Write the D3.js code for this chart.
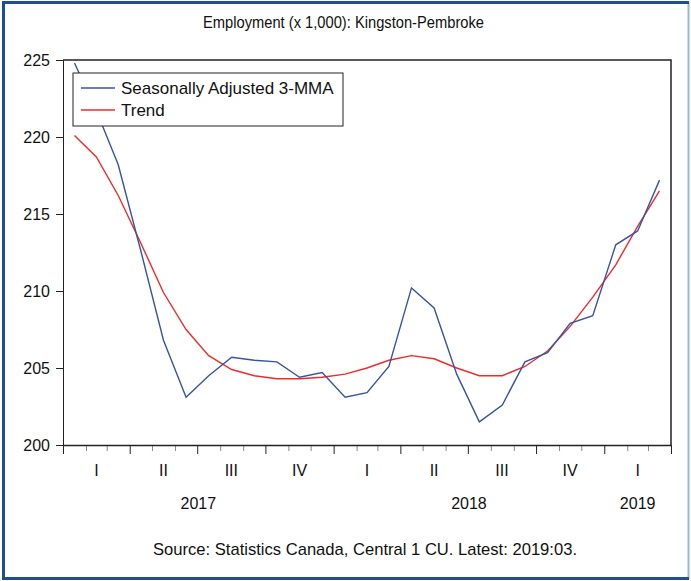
<!DOCTYPE html>
<html>
<head>
<meta charset="utf-8">
<script src="https://cdn.jsdelivr.net/npm/d3@7"></script>
<style>
  html, body { margin: 0; padding: 0; background: #fff; }
  svg { display: block; font-family: "Liberation Sans", Arial, sans-serif; }
</style>
</head>
<body>
<svg id="chart" width="691" height="581"></svg>
<script>
// ---- Data (monthly, Jan 2017 – Mar 2019) ----
const months = ["2017-01","2017-02","2017-03","2017-04","2017-05","2017-06","2017-07","2017-08","2017-09","2017-10","2017-11","2017-12",
                "2018-01","2018-02","2018-03","2018-04","2018-05","2018-06","2018-07","2018-08","2018-09","2018-10","2018-11","2018-12",
                "2019-01","2019-02","2019-03"];
const seasonallyAdjusted = [224.8, 221.7, 218.2, 212.6, 206.8, 203.1, 204.5, 205.7, 205.5, 205.4, 204.4, 204.7,
                            203.1, 203.4, 205.1, 210.2, 208.9, 204.6, 201.5, 202.6, 205.4, 206.0, 207.9, 208.4,
                            213.0, 213.9, 217.2];
const trend = [220.1, 218.7, 216.2, 213.1, 209.9, 207.5, 205.8, 204.9, 204.5, 204.3, 204.3, 204.4,
               204.6, 205.0, 205.5, 205.8, 205.6, 205.0, 204.5, 204.5, 205.1, 206.1, 207.7, 209.6,
               211.7, 214.2, 216.5];
const yTicks = [200, 205, 210, 215, 220, 225];
const quarterLabels = ["I","II","III","IV","I","II","III","IV","I"];
const years = ["2017","2018","2019"];
const seriesNames = ["Seasonally Adjusted 3-MMA", "Trend"];
const titleText = "Employment (x 1,000): Kingston-Pembroke";
const sourceText = "Source: Statistics Canada, Central 1 CU. Latest: 2019:03.";

// ---- Layout ----
const W = 691, H = 581;
const plot = { left: 63, right: 671, top: 60, bottom: 445 };
const blue = "#3853a4", red = "#ee2b2b";

const svg = d3.select("#chart");

// outer frame
svg.append("rect").attr("x", 0).attr("y", 0).attr("width", W).attr("height", H).attr("fill", "#fff");
svg.append("line").attr("x1", 688.5).attr("x2", 688.5).attr("y1", 2).attr("y2", 579).attr("stroke", "#9db6d0").attr("stroke-width", 2);
svg.append("line").attr("x1", 3.5).attr("x2", 3.5).attr("y1", 1).attr("y2", 580).attr("stroke", "#1f4f8c").attr("stroke-width", 3);
svg.append("line").attr("x1", 2).attr("x2", 689).attr("y1", 2.5).attr("y2", 2.5).attr("stroke", "#1f4f8c").attr("stroke-width", 3);
svg.append("line").attr("x1", 2).attr("x2", 689).attr("y1", 578.5).attr("y2", 578.5).attr("stroke", "#1f4f8c").attr("stroke-width", 3);

const parse = d3.timeParse("%Y-%m");
const dates = months.map(parse);
const start = parse("2017-01"), end = parse("2019-04");
const x = d3.scaleTime().domain([start, end]).range([plot.left, plot.right]);
const y = d3.scaleLinear().domain([200, 225]).range([plot.bottom, plot.top]);
const mid = d => new Date((d3.timeMonth.offset(d, 1).getTime() + d.getTime()) / 2);

// title
svg.append("text").attr("x", 203).attr("y", 28).attr("text-anchor", "start")
  .attr("font-size", 17).attr("fill", "#111")
  .attr("textLength", 281).attr("lengthAdjust", "spacingAndGlyphs").text(titleText);

// plot frame (top & right)
svg.append("path").attr("d", `M${plot.left},${plot.top}H${plot.right}V${plot.bottom}`)
  .attr("fill", "none").attr("stroke", "#222").attr("stroke-width", 1.5);

// y axis
const yAxis = svg.append("g").attr("transform", `translate(${plot.left},0)`)
  .call(d3.axisLeft(y).tickValues(yTicks).tickSize(7).tickPadding(6).tickFormat(d3.format("d")));
yAxis.selectAll("text").attr("font-size", 16).attr("fill", "#111").attr("font-family", "Liberation Sans, Arial, sans-serif");
yAxis.selectAll("line, path").attr("stroke", "#222");

// x axis: minor (monthly) and major (quarterly) ticks
const monthTicks = d3.timeMonth.range(start, d3.timeMonth.offset(end, 1));
const quarterTicks = monthTicks.filter(d => d.getMonth() % 3 === 0);
const xMinor = svg.append("g").attr("transform", `translate(0,${plot.bottom})`)
  .call(d3.axisBottom(x).tickValues(monthTicks.filter(d => d.getMonth() % 3 !== 0)).tickSize(6).tickFormat(""));
xMinor.select("path").remove();
xMinor.selectAll("line").attr("stroke", "#888");
const xMajor = svg.append("g").attr("transform", `translate(0,${plot.bottom})`)
  .call(d3.axisBottom(x).tickValues(quarterTicks).tickSize(9).tickFormat(""));
xMajor.selectAll("line, path").attr("stroke", "#222");
xMajor.select("path").attr("d", `M${plot.left},0.5H${plot.right}`).attr("stroke-width", 1.5);

// quarter labels
const qStarts = quarterTicks.slice(0, quarterLabels.length);
svg.append("g").selectAll("text").data(qStarts).join("text")
  .attr("x", d => x(new Date((d.getTime() + d3.timeMonth.offset(d, 3).getTime()) / 2)))
  .attr("y", 476).attr("text-anchor", "middle").attr("font-size", 16).attr("fill", "#111")
  .text((d, i) => quarterLabels[i]);

// year labels (centered on visible part of each year)
svg.append("g").selectAll("text").data(years).join("text")
  .attr("x", d => {
    const a = d3.max([parse(d + "-01"), start]);
    const b = d3.min([parse((+d + 1) + "-01"), end]);
    return (x(a) + x(b)) / 2;
  })
  .attr("y", 509).attr("text-anchor", "middle").attr("font-size", 16).attr("fill", "#111")
  .text(d => d);

// source
svg.append("text").attr("x", 153).attr("y", 555).attr("text-anchor", "start")
  .attr("font-size", 17).attr("fill", "#111")
  .attr("textLength", 424).attr("lengthAdjust", "spacingAndGlyphs").text(sourceText);

// lines
const line = d3.line().x((d, i) => x(mid(dates[i]))).y(d => y(d));
svg.append("path").datum(trend).attr("d", line).attr("fill", "none").attr("stroke", red).attr("stroke-width", 1.4);
svg.append("path").datum(seasonallyAdjusted).attr("d", line).attr("fill", "none").attr("stroke", blue).attr("stroke-width", 1.4);

// legend
const lg = svg.append("g");
lg.append("rect").attr("x", 73).attr("y", 73).attr("width", 270).attr("height", 53)
  .attr("fill", "#fff").attr("stroke", "#222").attr("stroke-width", 1);
[blue, red].forEach((c, i) => {
  const yy = 88 + i * 22;
  lg.append("line").attr("x1", 81).attr("x2", 115).attr("y1", yy).attr("y2", yy).attr("stroke", c).attr("stroke-width", 1.4);
  lg.append("text").attr("x", 121).attr("y", yy + 6).attr("font-size", 17).attr("fill", "#111").text(seriesNames[i]);
});
</script>
</body>
</html>
